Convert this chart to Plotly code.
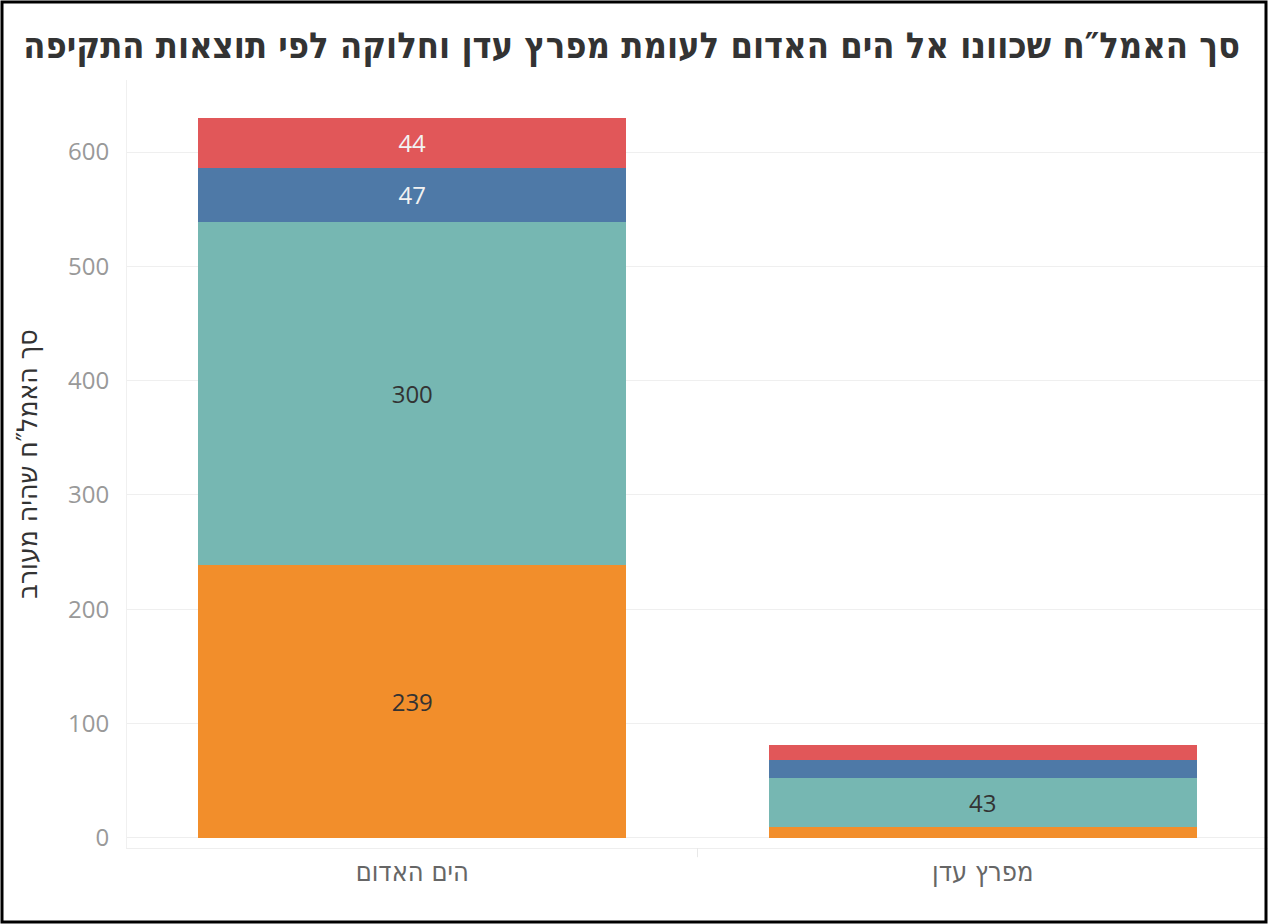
import plotly.graph_objects as go

categories = ["הים האדום", "מפרץ עדן"]
series_names = ["תוצאה 1", "תוצאה 2", "תוצאה 3", "תוצאה 4"]
values_s1 = [239, 9]    # orange (bottom)
values_s2 = [300, 43]   # teal
values_s3 = [47, 16]    # blue
values_s4 = [44, 13]    # red (top)
y_ticks = [0, 100, 200, 300, 400, 500, 600]

all_values = [values_s1, values_s2, values_s3, values_s4]
colors = ["#F28E2B", "#76B7B2", "#4E79A7", "#E15759"]
text_colors = ["#333333", "#333333", "#F2F2F2", "#F2F2F2"]

W, H = 1268, 924
L, R, T, B = 127, 0, 80, 76

fig = go.Figure()
for name, vals, c, tc in zip(series_names, all_values, colors, text_colors):
    fig.add_trace(go.Bar(
        x=categories, y=vals, name=name, marker=dict(color=c, line=dict(width=0)),
        text=[str(v) if v >= 30 else "" for v in vals],
        textposition="inside", insidetextanchor="middle",
        textfont=dict(family="Open Sans, DejaVu Sans", size=24, color=tc),
        hoverinfo="skip", showlegend=False,
    ))

fig.update_layout(
    barmode="stack", bargap=0.25,
    width=W, height=H,
    margin=dict(l=L, r=R, t=T, b=B),
    paper_bgcolor="white", plot_bgcolor="white",
    title=dict(
        text="<b>סך האמל\u2033ח שכוונו אל הים האדום לעומת מפרץ עדן וחלוקה לפי תוצאות התקיפה</b>",
        x=1240 / W, xanchor="right", xref="container",
        y=1 - 45 / H, yanchor="middle", yref="container",
        font=dict(family="DejaVu Sans Condensed, DejaVu Sans", size=36, color="#333333"),
    ),
    font=dict(family="DejaVu Sans Condensed, DejaVu Sans"),
)

fig.update_xaxes(
    showgrid=False, showline=True, linecolor="#eeeeee", linewidth=1,
    tickfont=dict(family="DejaVu Sans Condensed, DejaVu Sans", size=27, color="#666666"),
    ticks="", ticklabelstandoff=0,
)
fig.update_yaxes(
    range=[-9, 663], tickvals=y_ticks,
    showgrid=True, gridcolor="#efefef", gridwidth=1,
    zeroline=True, zerolinecolor="#eeeeee", zerolinewidth=1,
    showline=True, linecolor="#f0f0f0",
    tickfont=dict(family="Open Sans, DejaVu Sans", size=24, color="#999999"),
    ticks="", ticklabelstandoff=12,
    title=dict(text="סך האמל\u2033ח שהיה מעורב", standoff=22,
               font=dict(family="DejaVu Sans Condensed, DejaVu Sans", size=28, color="#333333")),
)

# divider tick between categories
fig.add_shape(type="line", xref="x", yref="paper", x0=0.5, x1=0.5, y0=0, y1=-0.012,
              line=dict(color="#e8e8e8", width=1))

# outer black frame around the whole figure
pw, ph = W - L - R, H - T - B
fig.add_shape(type="rect", xref="paper", yref="paper",
              x0=(-L + 2) / pw, x1=(pw + R - 2) / pw,
              y0=(-B + 2) / ph, y1=(ph + T - 2) / ph,
              line=dict(color="black", width=3), fillcolor="rgba(0,0,0,0)", layer="above")

fig.write_html("out.html", config={"displayModeBar": False},
               post_script="document.body.style.margin='0';document.body.style.overflow='hidden';")
